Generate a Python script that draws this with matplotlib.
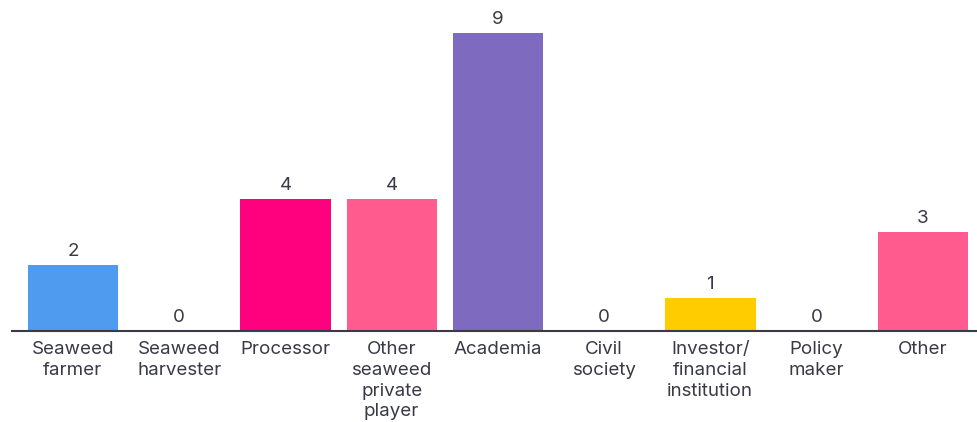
import matplotlib.pyplot as plt
import numpy as np

# data
categories = ["Seaweed\nfarmer", "Seaweed\nharvester", "Processor",
              "Other\nseaweed\nprivate\nplayer", "Academia", "Civil\nsociety",
              "Investor/\nfinancial\ninstitution", "Policy\nmaker", "Other"]
counts = [2, 0, 4, 4, 9, 0, 1, 0, 3]
colors = ["#4f9bef", "#4f9bef", "#ff007f", "#ff5b8f", "#7e6bbf",
          "#7e6bbf", "#ffcc00", "#ffcc00", "#ff5b8f"]

text_color = "#3a3a46"
plt.rcParams['font.family'] = ['Inter', 'DejaVu Sans']

fig = plt.figure(figsize=(9.77, 4.22), dpi=100)
ax = fig.add_axes([12/977, 91/422, 965/977, 331/422])

x = np.arange(len(categories))
bars = ax.bar(x, counts, width=0.85, color=colors)

for xi, c in zip(x, counts):
    ax.text(xi, c + 0.15, str(c), ha='center', va='bottom',
            fontsize=13.5, color=text_color)

ax.set_xlim(-0.574, 8.51)
ax.set_ylim(0, 10)
ax.set_xticks(x)
ax.set_xticklabels(categories, fontsize=13.5, color=text_color, linespacing=1.3)
ax.tick_params(axis='x', length=0, pad=7)
ax.set_yticks([])
for s in ['top', 'right', 'left']:
    ax.spines[s].set_visible(False)
ax.spines['bottom'].set_color("#3a3a46")
ax.spines['bottom'].set_linewidth(1.5)

fig.savefig("out.png", dpi=100)
